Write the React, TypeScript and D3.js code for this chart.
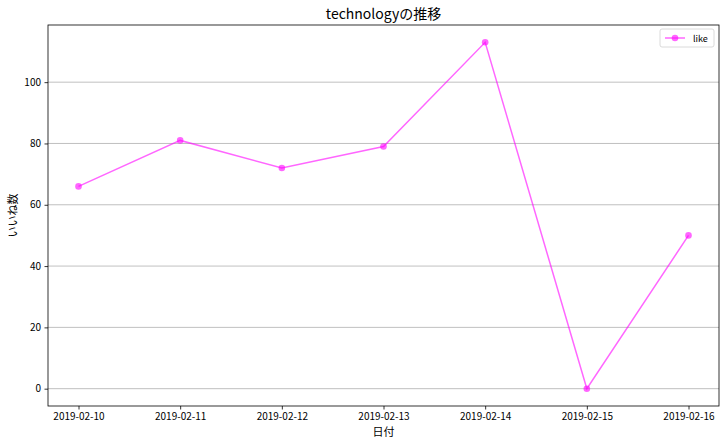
import React, { useEffect, useRef } from 'react';
import * as d3 from 'd3';

const dates = ['2019-02-10', '2019-02-11', '2019-02-12', '2019-02-13', '2019-02-14', '2019-02-15', '2019-02-16'];
const likes = [66, 81, 72, 79, 113, 0, 50];
const yTicks = [0, 20, 40, 60, 80, 100];
const title = 'technologyの推移';
const xTitle = '日付';
const yTitle = 'いいね数';
const seriesName = 'like';

const FONT = '"Noto Sans CJK JP", "DejaVu Sans", sans-serif';

export default function App() {
  const ref = useRef<SVGSVGElement>(null);

  useEffect(() => {
    const width = 728;
    const height = 444;
    const m = { top: 25, right: 9, bottom: 38, left: 48 };

    const svg = d3.select(ref.current);
    svg.selectAll('*').remove();
    svg.attr('width', width).attr('height', height).style('font-family', FONT);

    const parse = d3.utcParse('%Y-%m-%d');
    const xs = dates.map((d) => parse(d) as Date);
    const data = xs.map((d, i) => ({ date: d, value: likes[i] }));

    const span = xs[xs.length - 1].getTime() - xs[0].getTime();
    const x = d3
      .scaleUtc()
      .domain([new Date(xs[0].getTime() - span * 0.05), new Date(xs[xs.length - 1].getTime() + span * 0.05)])
      .range([m.left, width - m.right]);

    const ymax = d3.max(likes) as number;
    const ymin = d3.min(likes) as number;
    const pad = (ymax - ymin) * 0.05;
    const y = d3.scaleLinear().domain([ymin - pad, ymax + pad]).range([height - m.bottom, m.top]);

    // grid
    svg
      .append('g')
      .selectAll('line')
      .data(yTicks)
      .enter()
      .append('line')
      .attr('x1', m.left)
      .attr('x2', width - m.right)
      .attr('y1', (d) => y(d))
      .attr('y2', (d) => y(d))
      .attr('stroke', '#b0b0b0')
      .attr('stroke-width', 0.8);

    // axes
    const xAxis = svg
      .append('g')
      .attr('transform', `translate(0,${height - m.bottom})`)
      .call(
        d3
          .axisBottom(x)
          .tickValues(xs)
          .tickFormat((d) => d3.utcFormat('%Y-%m-%d')(d as Date))
          .tickSize(3.5)
          .tickPadding(3.5)
      );
    const yAxis = svg
      .append('g')
      .attr('transform', `translate(${m.left},0)`)
      .call(d3.axisLeft(y).tickValues(yTicks).tickSize(3.5).tickPadding(3.5));

    [xAxis, yAxis].forEach((g) => {
      g.select('.domain').remove();
      g.selectAll('line').attr('stroke', '#000').attr('stroke-width', 0.8);
      g.selectAll('text').attr('fill', '#000').style('font-size', '10px').style('font-family', FONT);
    });

    // line
    const line = d3
      .line<{ date: Date; value: number }>()
      .x((d) => x(d.date))
      .y((d) => y(d.value));

    svg
      .append('path')
      .datum(data)
      .attr('d', line)
      .attr('fill', 'none')
      .attr('stroke', '#ff00ff')
      .attr('stroke-opacity', 0.6)
      .attr('stroke-width', 1.5);

    svg
      .append('g')
      .selectAll('circle')
      .data(data)
      .enter()
      .append('circle')
      .attr('cx', (d) => x(d.date))
      .attr('cy', (d) => y(d.value))
      .attr('r', 3.3)
      .attr('fill', '#ff00ff')
      .attr('fill-opacity', 0.6);

    // frame
    svg
      .append('rect')
      .attr('x', m.left)
      .attr('y', m.top)
      .attr('width', width - m.left - m.right)
      .attr('height', height - m.top - m.bottom)
      .attr('fill', 'none')
      .attr('stroke', '#000')
      .attr('stroke-width', 0.8);

    // titles
    svg
      .append('text')
      .attr('x', (m.left + width - m.right) / 2)
      .attr('y', 19)
      .attr('text-anchor', 'middle')
      .style('font-size', '14px')
      .text(title);

    svg
      .append('text')
      .attr('x', (m.left + width - m.right) / 2)
      .attr('y', 436)
      .attr('text-anchor', 'middle')
      .style('font-size', '11px')
      .text(xTitle);

    svg
      .append('text')
      .attr('transform', `translate(17,${(m.top + height - m.bottom) / 2}) rotate(-90)`)
      .attr('text-anchor', 'middle')
      .style('font-size', '11px')
      .text(yTitle);

    // legend
    const lg = svg.append('g').attr('transform', `translate(${width - m.right - 59},29)`);
    lg.append('rect')
      .attr('width', 54)
      .attr('height', 18)
      .attr('rx', 2)
      .attr('fill', '#fff')
      .attr('stroke', '#d0d0d0')
      .attr('stroke-width', 0.8);
    lg.append('line')
      .attr('x1', 5)
      .attr('x2', 25)
      .attr('y1', 9)
      .attr('y2', 9)
      .attr('stroke', '#ff00ff')
      .attr('stroke-opacity', 0.6)
      .attr('stroke-width', 1.5);
    lg.append('circle')
      .attr('cx', 15)
      .attr('cy', 9)
      .attr('r', 3.3)
      .attr('fill', '#ff00ff')
      .attr('fill-opacity', 0.6);
    lg.append('text')
      .attr('x', 33)
      .attr('y', 12.5)
      .style('font-size', '9px')
      .text(seriesName);
  }, []);

  return (
    <div>
      <svg ref={ref} style={{ position: 'absolute', left: 0, top: 0 }} />
    </div>
  );
}
